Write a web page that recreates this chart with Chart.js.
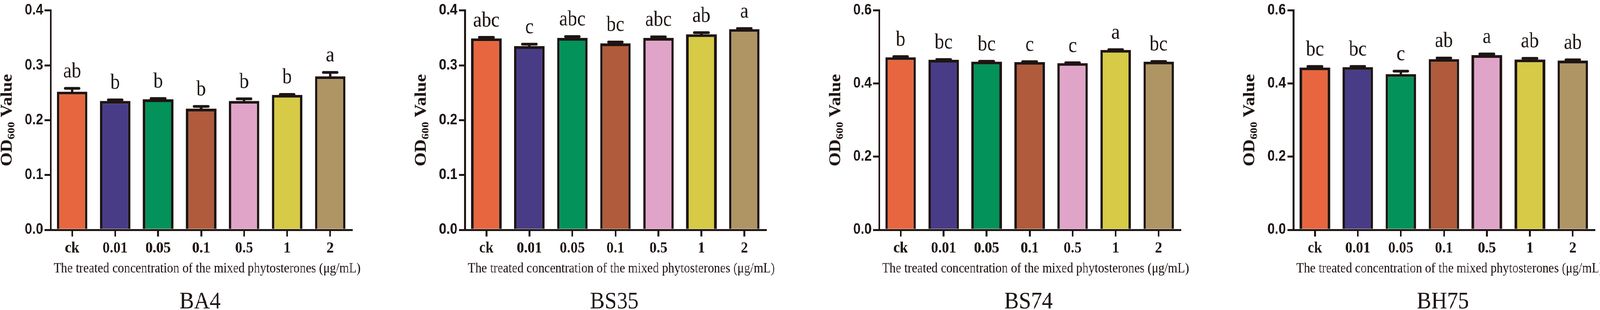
<!DOCTYPE html>
<html>
<head>
<meta charset="utf-8">
<title>OD600 of strains under mixed phytosterones</title>
<script src="https://cdn.jsdelivr.net/npm/chart.js@4.4.1/dist/chart.umd.min.js"></script>
<style>
    html, body { margin: 0; padding: 0; background: #fff; overflow: hidden; }
    #stage { position: absolute; left: 0; top: 0; width: 4550px; height: 793px; transform-origin: 0 0; }
    .panel { position: absolute; top: 0; width: 1100px; height: 793px; }
</style>
</head>
<body>
<div id="stage">
    <div class="panel" style="left:0px"><canvas id="chartBA4" width="1100" height="793"></canvas></div>
    <div class="panel" style="left:1178px"><canvas id="chartBS35" width="1100" height="793"></canvas></div>
    <div class="panel" style="left:2356px"><canvas id="chartBS74" width="1100" height="793"></canvas></div>
    <div class="panel" style="left:3534px"><canvas id="chartBH75" width="1100" height="793"></canvas></div>
</div>

<script>
// Categories (treated concentration, ug/mL) and bar colours
const categories = ['ck', '0.01', '0.05', '0.1', '0.5', '1', '2'];
const barColors = ['#e8663f', '#483c87', '#03925a', '#b05b3b', '#e0a4c9', '#d6ca46', '#af9563'];

// BA4
const ba4Values = [0.252, 0.235, 0.238, 0.221, 0.235, 0.246, 0.280];
const ba4Errors = [0.006, 0.002, 0.0015, 0.004, 0.004, 0.001, 0.007];
const ba4Letters = ['ab', 'b', 'b', 'b', 'b', 'b', 'a'];

// BS35
const bs35Values = [0.349, 0.335, 0.350, 0.340, 0.350, 0.3565, 0.366];
const bs35Errors = [0.002, 0.0035, 0.0025, 0.0025, 0.002, 0.003, 0.001];
const bs35Letters = ['abc', 'c', 'abc', 'bc', 'abc', 'ab', 'a'];

// BS74
const bs74Values = [0.472, 0.465, 0.460, 0.459, 0.456, 0.492, 0.460];
const bs74Errors = [0.002, 0.001, 0.001, 0.001, 0.001, 0.001, 0.0005];
const bs74Letters = ['b', 'bc', 'bc', 'c', 'c', 'a', 'bc'];

// BH75
const bh75Values = [0.444, 0.445, 0.426, 0.467, 0.478, 0.466, 0.463];
const bh75Errors = [0.003, 0.002, 0.008, 0.003, 0.003, 0.003, 0.002];
const bh75Letters = ['bc', 'bc', 'c', 'ab', 'a', 'ab', 'ab'];

const INK = '#1e1513';
const SERIF = '"Liberation Serif", "Times New Roman", serif';
const SANS = '"Liberation Sans", Arial, sans-serif';
const X_TITLE = 'The treated concentration of the mixed phytosterones (\u03bcg/mL)';

// the figure is laid out on a 4550px wide stage, squeezed to the real window width
document.getElementById('stage').style.transform = 'scaleX(' + (window.innerWidth / 4550) + ')';

// Error bars, significance letters and titles
const panelTextPlugin = {
    id: 'panelText',
    afterDatasetsDraw: function(chart, args, opts) {
        const ctx = chart.ctx;
        const yScale = chart.scales.y;
        const values = chart.data.datasets[0].data;
        const meta = chart.getDatasetMeta(0);

        ctx.save();
        ctx.strokeStyle = INK;
        ctx.fillStyle = INK;
        ctx.lineWidth = 7;
        meta.data.forEach(function(bar, i) {
            const yTop = yScale.getPixelForValue(values[i]);
            const yErr = yScale.getPixelForValue(values[i] + opts.errors[i]);

            ctx.lineCap = 'butt';
            ctx.beginPath();
            ctx.moveTo(bar.x, yTop + 3);
            ctx.lineTo(bar.x, yErr);
            ctx.stroke();

            ctx.lineCap = 'round';
            ctx.beginPath();
            ctx.moveTo(bar.x - 20, yErr);
            ctx.lineTo(bar.x + 20, yErr);
            ctx.stroke();

            ctx.font = '54px ' + SERIF;
            ctx.textAlign = 'center';
            ctx.textBaseline = 'alphabetic';
            ctx.fillText(opts.letters[i], bar.x, yErr - 28);
        });
        ctx.restore();
    },
    afterDraw: function(chart, args, opts) {
        const ctx = chart.ctx;
        const area = chart.chartArea;
        const midX = (area.left + area.right) / 2;

        ctx.save();
        ctx.fillStyle = INK;
        ctx.textBaseline = 'alphabetic';

        // x axis title
        ctx.textAlign = 'center';
        ctx.font = '35px ' + SERIF;
        ctx.fillText(X_TITLE, midX + 17, 697);

        // panel title
        ctx.font = '62px ' + SERIF;
        ctx.fillText(opts.title, midX - 3, 789);

        // y axis title with subscript
        ctx.translate(area.left - 111, (area.top + area.bottom) / 2);
        ctx.rotate(-Math.PI / 2);
        ctx.textAlign = 'left';
        const big = 'bold 46px ' + SERIF;
        const small = 'bold 30px ' + SERIF;
        ctx.font = big;
        const wOD = ctx.measureText('OD').width;
        const wVal = ctx.measureText(' Value').width;
        ctx.font = small;
        const wSub = ctx.measureText('600').width;
        let x = -(wOD + wSub + wVal) / 2;
        ctx.font = big;
        ctx.fillText('OD', x, 0);
        x += wOD;
        ctx.font = small;
        ctx.fillText('600', x, 8);
        x += wSub;
        ctx.font = big;
        ctx.fillText(' Value', x, 0);
        ctx.restore();
    }
};

function buildChart(id, values, errors, letters, title, yMax, yStep) {
    return new Chart(document.getElementById(id), {
        type: 'bar',
        data: {
            labels: categories,
            datasets: [{
                data: values,
                backgroundColor: barColors,
                borderColor: INK,
                borderWidth: 7,
                borderSkipped: 'start',
                barPercentage: 0.71,
                categoryPercentage: 1
            }]
        },
        options: {
            responsive: false,
            animation: false,
            devicePixelRatio: 1,
            layout: { padding: { top: 19, right: 100, left: 0, bottom: 0 } },
            plugins: {
                legend: { display: false },
                tooltip: { enabled: false },
                panelText: { errors: errors, letters: letters, title: title }
            },
            scales: {
                x: {
                    offset: true,
                    grid: {
                        display: true,
                        offset: false,
                        drawOnChartArea: false,
                        drawTicks: true,
                        tickLength: 17,
                        lineWidth: 5,
                        color: INK
                    },
                    border: { display: true, width: 5, color: INK },
                    ticks: {
                        color: INK,
                        padding: 6,
                        maxRotation: 0,
                        autoSkip: false,
                        font: { family: SERIF, size: 41, weight: 'bold' }
                    },
                    afterFit: function(scale) { scale.height = 205; }
                },
                y: {
                    min: 0,
                    max: yMax,
                    grid: {
                        display: true,
                        drawOnChartArea: false,
                        drawTicks: true,
                        tickLength: 17,
                        lineWidth: 5,
                        color: INK
                    },
                    border: { display: true, width: 5, color: INK },
                    ticks: {
                        stepSize: yStep,
                        color: INK,
                        padding: 4,
                        font: { family: SANS, size: 38, weight: 'bold' },
                        callback: function(v) { return Number(v).toFixed(1); }
                    },
                    afterFit: function(scale) { scale.width = 144; }
                }
            }
        },
        plugins: [panelTextPlugin]
    });
}

buildChart('chartBA4', ba4Values, ba4Errors, ba4Letters, 'BA4', 0.4, 0.1);
buildChart('chartBS35', bs35Values, bs35Errors, bs35Letters, 'BS35', 0.4, 0.1);
buildChart('chartBS74', bs74Values, bs74Errors, bs74Letters, 'BS74', 0.6, 0.2);
buildChart('chartBH75', bh75Values, bh75Errors, bh75Letters, 'BH75', 0.6, 0.2);
</script>
</body>
</html>
